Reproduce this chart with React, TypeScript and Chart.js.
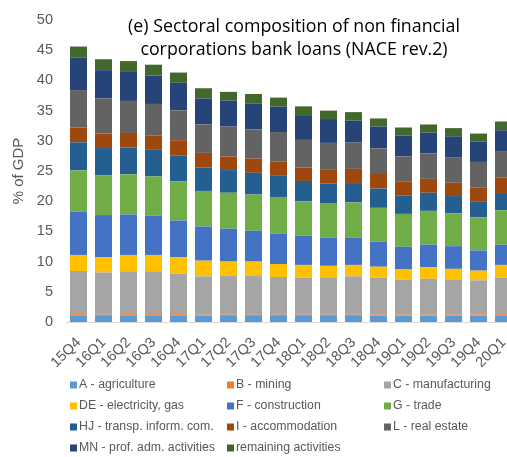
import { useEffect, useRef } from 'react';
import { Chart, registerables } from 'chart.js';

Chart.register(...registerables);

const categories = ['15Q4', '16Q1', '16Q2', '16Q3', '16Q4', '17Q1', '17Q2', '17Q3', '17Q4', '18Q1', '18Q2', '18Q3', '18Q4', '19Q1', '19Q2', '19Q3', '19Q4', '20Q1'];

const agriculture = [1.05, 1.0, 1.05, 1.05, 1.05, 1.05, 1.0, 1.0, 1.0, 1.0, 1.0, 1.0, 1.05, 1.05, 1.05, 1.05, 1.05, 1.05];
const mining = [0.25, 0.2, 0.25, 0.25, 0.25, 0.15, 0.2, 0.2, 0.2, 0.2, 0.2, 0.2, 0.2, 0.2, 0.2, 0.2, 0.2, 0.25];
const manufacturing = [7.15, 7.0, 7.1, 7.1, 6.7, 6.35, 6.4, 6.4, 6.25, 6.15, 6.2, 6.35, 6.1, 5.75, 5.9, 5.8, 5.65, 6.05];
const electricityGas = [2.65, 2.55, 2.7, 2.7, 2.7, 2.6, 2.4, 2.4, 2.15, 2.1, 1.9, 1.9, 1.8, 1.7, 1.9, 1.75, 1.6, 2.1];
const construction = [7.2, 6.95, 6.7, 6.5, 6.1, 5.65, 5.45, 5.1, 5.0, 4.85, 4.65, 4.55, 4.15, 3.75, 3.75, 3.75, 3.35, 3.35];
const trade = [6.8, 6.6, 6.65, 6.5, 6.5, 5.9, 5.95, 6.0, 6.1, 5.7, 5.75, 5.8, 5.6, 5.45, 5.6, 5.45, 5.5, 5.7];
const transport = [4.65, 4.5, 4.45, 4.4, 4.3, 3.9, 3.75, 3.6, 3.5, 3.35, 3.25, 3.2, 3.2, 3.0, 3.0, 2.85, 2.65, 2.85];
const accommodation = [2.45, 2.4, 2.4, 2.4, 2.5, 2.4, 2.25, 2.35, 2.4, 2.25, 2.35, 2.35, 2.4, 2.4, 2.3, 2.2, 2.3, 2.6];
const realEstate = [6.2, 5.8, 5.3, 5.2, 4.95, 4.7, 4.95, 4.85, 4.85, 4.55, 4.35, 4.35, 4.25, 4.1, 4.2, 4.25, 4.2, 4.35];
const profAdm = [5.4, 4.7, 4.8, 4.7, 4.55, 4.3, 4.3, 4.3, 4.2, 4.1, 3.95, 3.65, 3.6, 3.45, 3.45, 3.45, 3.35, 3.45];
const remaining = [1.8, 1.8, 1.8, 1.8, 1.7, 1.7, 1.45, 1.55, 1.5, 1.45, 1.4, 1.4, 1.35, 1.35, 1.35, 1.35, 1.35, 1.45];

const seriesLabels = [
  'A - agriculture', 'B - mining', 'C - manufacturing',
  'DE - electricity, gas', 'F - construction', 'G - trade',
  'HJ - transp. inform. com.', 'I - accommodation', 'L - real estate',
  'MN - prof. adm. activities', 'remaining activities',
];
const seriesValues = [agriculture, mining, manufacturing, electricityGas, construction, trade, transport, accommodation, realEstate, profAdm, remaining];
const seriesColors = ['#5B9BD5', '#ED7D31', '#A5A5A5', '#FFC000', '#4472C4', '#70AD47', '#255E91', '#9E480E', '#636363', '#264478', '#43682B'];

const yTicks = [0, 5, 10, 15, 20, 25, 30, 35, 40, 45, 50];
const titleLines = ['(e) Sectoral composition of non financial', 'corporations bank loans (NACE rev.2)'];
const yTitle = '% of GDP';

const W = 520;
const H = 457;

const titlePlugin = {
  id: 'innerTitle',
  afterDraw(chart: any) {
    const { ctx, chartArea } = chart;
    const cx = (chartArea.left + chartArea.right) / 2 + 3;
    ctx.save();
    ctx.font = '17.8px "Open Sans"';
    ctx.fillStyle = '#000000';
    ctx.textAlign = 'center';
    ctx.textBaseline = 'middle';
    titleLines.forEach((line, i) => {
      ctx.fillText(line, cx, chartArea.top + 7 + i * 23);
    });
    ctx.restore();
  },
};

const gridLegendPlugin = {
  id: 'gridLegend',
  afterDraw(chart: any) {
    const { ctx, chartArea } = chart;
    ctx.save();
    ctx.font = '12.3px "Liberation Sans"';
    ctx.textAlign = 'left';
    ctx.textBaseline = 'middle';
    chart.data.datasets.forEach((ds: any, i: number) => {
      const col = i % 3;
      const row = Math.floor(i / 3);
      const x = chartArea.left + 4 + col * 157;
      const y = chartArea.bottom + 63 + row * 21;
      ctx.fillStyle = ds.backgroundColor;
      ctx.fillRect(x, y - 3.5, 7, 7);
      ctx.fillStyle = '#595959';
      ctx.fillText(ds.label, x + 9, y);
    });
    ctx.restore();
  },
};

export default function App() {
  const ref = useRef<HTMLCanvasElement>(null);
  useEffect(() => {
    if (!ref.current) return;
    const chart = new Chart(ref.current, {
      type: 'bar',
      data: {
        labels: categories,
        datasets: seriesLabels.map((label, i) => ({
          label,
          data: seriesValues[i],
          backgroundColor: seriesColors[i],
          borderWidth: 0,
          categoryPercentage: 1,
          barPercentage: 0.68,
        })),
      },
      options: {
        responsive: false,
        animation: false,
        devicePixelRatio: 1,
        layout: { padding: { top: 20, right: 4, bottom: 85, left: 0 } },
        plugins: {
          legend: { display: false },
          tooltip: { enabled: false },
          title: { display: false },
        },
        scales: {
          x: {
            stacked: true,
            grid: { display: false },
            border: { display: true, color: '#D9D9D9', width: 1 },
            ticks: {
              autoSkip: false,
              minRotation: 45,
              maxRotation: 45,
              padding: 4,
              color: '#595959',
              font: { family: '"Liberation Sans"', size: 14.5 },
            },
            afterFit(scale: any) {
              scale.height = H - 85 - 322;
            },
          },
          y: {
            stacked: true,
            min: 0,
            max: 50,
            afterBuildTicks(scale: any) {
              scale.ticks = yTicks.map((v) => ({ value: v }));
            },
            grid: { display: false },
            border: { display: false },
            ticks: {
              padding: 5,
              color: '#595959',
              font: { family: '"Liberation Sans"', size: 14.5 },
            },
            title: {
              display: true,
              text: yTitle,
              color: '#595959',
              font: { family: '"Liberation Sans"', size: 15 },
              padding: { top: 10, bottom: 0 },
            },
            afterFit(scale: any) {
              scale.width = 66;
            },
          },
        },
      },
      plugins: [titlePlugin, gridLegendPlugin],
    });
    return () => chart.destroy();
  }, []);

  return (
    <div style={{ position: 'fixed', left: 0, top: 0, width: 507, height: 457, overflow: 'hidden', background: '#ffffff' }}>
      <canvas ref={ref} width={W} height={H} style={{ display: 'block', width: W, height: H }} />
    </div>
  );
}
